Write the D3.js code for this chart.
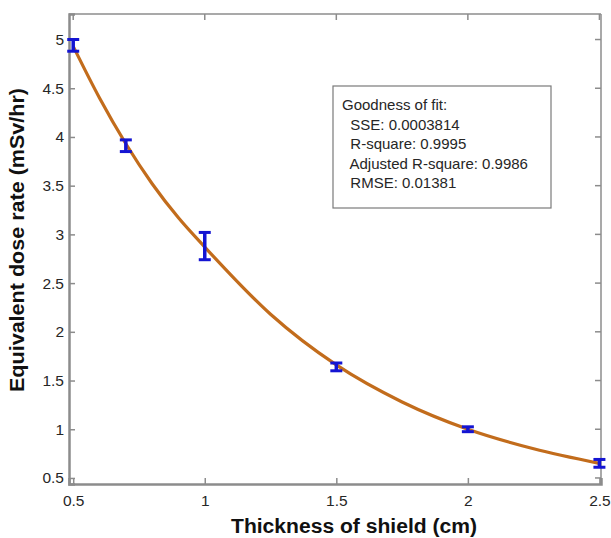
<!DOCTYPE html>
<html>
<head>
<meta charset="utf-8">
<script src="https://cdn.jsdelivr.net/npm/d3@7"></script>
<style>
  body { margin: 0; background: #fff; }
  text { font-family: "Liberation Sans", Arial, sans-serif; }
</style>
</head>
<body>
<svg id="chart" width="611" height="538"></svg>
<script>
// measured points with error bars
const thickness = [0.5, 0.7, 1, 1.5, 2, 2.5];
const doseRate = [4.94, 3.91, 2.88, 1.64, 1.0, 0.65];
const doseErr = [0.06, 0.06, 0.14, 0.04, 0.025, 0.04];

// fitted curve
const fitX = [0.5, 0.6, 0.7, 0.8, 0.9, 1.0, 1.25, 1.5, 1.75, 2.0, 2.25, 2.5];
const fitY = [4.93, 4.40, 3.93, 3.52, 3.17, 2.87, 2.18, 1.66, 1.28, 1.0, 0.80, 0.65];

const xTicks = [0.5, 1, 1.5, 2, 2.5];
const yTicks = [0.5, 1, 1.5, 2, 2.5, 3, 3.5, 4, 4.5, 5];

const fitLines = [
  'Goodness of fit:',
  '  SSE: 0.0003814',
  '  R-square: 0.9995',
  '  Adjusted R-square: 0.9986',
  '  RMSE: 0.01381'
];

const plot = { left: 69, right: 601, top: 14, bottom: 484 };

const svg = d3.select('#chart');

const x = d3.scaleLinear().domain([0.484, 2.506]).range([plot.left, plot.right]);
const y = d3.scaleLinear().domain([0.438, 5.262]).range([plot.bottom, plot.top]);

const axisColor = '#8c8c8c';
const labelColor = '#262626';

// box on the top and right
svg.append('line')
  .attr('x1', plot.left).attr('x2', plot.right)
  .attr('y1', plot.top).attr('y2', plot.top)
  .attr('stroke', axisColor).attr('stroke-width', 1.5);
svg.append('line')
  .attr('x1', plot.right).attr('x2', plot.right)
  .attr('y1', plot.top).attr('y2', plot.bottom)
  .attr('stroke', axisColor).attr('stroke-width', 1.5);

// bottom axis, ticks point inward
const xAxis = svg.append('g')
  .attr('transform', 'translate(0,' + plot.bottom + ')')
  .call(d3.axisBottom(x).tickValues(xTicks).tickSize(-6).tickPadding(11).tickFormat(d3.format('')));
// left axis
const yAxis = svg.append('g')
  .attr('transform', 'translate(' + plot.left + ',0)')
  .call(d3.axisLeft(y).tickValues(yTicks).tickSize(-6).tickPadding(5).tickFormat(d3.format('')));

[xAxis, yAxis].forEach(function (g) {
  g.select('.domain').attr('stroke', axisColor).attr('stroke-width', 2.5);
  g.selectAll('.tick line').attr('stroke', axisColor).attr('stroke-width', 1.5);
  g.selectAll('.tick text')
    .attr('fill', labelColor)
    .style('font-size', '15.5px')
    .style('font-family', '"Liberation Sans", Arial, sans-serif');
});

// mirrored ticks on the top and right edges
svg.append('g').selectAll('line')
  .data(xTicks)
  .enter()
  .append('line')
  .attr('x1', d => x(d)).attr('x2', d => x(d))
  .attr('y1', plot.top).attr('y2', plot.top + 6)
  .attr('stroke', axisColor).attr('stroke-width', 1.5);
svg.append('g').selectAll('line')
  .data(yTicks)
  .enter()
  .append('line')
  .attr('x1', plot.right - 6).attr('x2', plot.right)
  .attr('y1', d => y(d)).attr('y2', d => y(d))
  .attr('stroke', axisColor).attr('stroke-width', 1.5);

// fitted curve
const fitData = fitX.map((d, i) => ({ x: d, y: fitY[i] }));
const line = d3.line()
  .x(d => x(d.x))
  .y(d => y(d.y))
  .curve(d3.curveMonotoneX);

svg.append('path')
  .datum(fitData)
  .attr('d', line)
  .attr('fill', 'none')
  .attr('stroke', '#c26c1c')
  .attr('stroke-width', 3.2);

// error bars
const points = thickness.map((d, i) => ({ x: d, y: doseRate[i], e: doseErr[i] }));
const errColor = '#1414d2';
const capW = 6;

const bars = svg.append('g').attr('class', 'errorbars')
  .selectAll('g')
  .data(points)
  .enter()
  .append('g');

bars.append('line')
  .attr('x1', d => x(d.x)).attr('x2', d => x(d.x))
  .attr('y1', d => y(d.y - d.e)).attr('y2', d => y(d.y + d.e))
  .attr('stroke', errColor).attr('stroke-width', 3.5);
bars.append('line')
  .attr('x1', d => x(d.x) - capW).attr('x2', d => x(d.x) + capW)
  .attr('y1', d => y(d.y + d.e)).attr('y2', d => y(d.y + d.e))
  .attr('stroke', errColor).attr('stroke-width', 3);
bars.append('line')
  .attr('x1', d => x(d.x) - capW).attr('x2', d => x(d.x) + capW)
  .attr('y1', d => y(d.y - d.e)).attr('y2', d => y(d.y - d.e))
  .attr('stroke', errColor).attr('stroke-width', 3);

// goodness of fit box
const box = svg.append('g').attr('transform', 'translate(333,86)');
box.append('rect')
  .attr('width', 218).attr('height', 122)
  .attr('fill', '#fff')
  .attr('stroke', '#7a7a7a')
  .attr('stroke-width', 1.2);
box.selectAll('text')
  .data(fitLines)
  .enter()
  .append('text')
  .attr('x', 9)
  .attr('y', (d, i) => 24 + i * 19.5)
  .attr('fill', labelColor)
  .style('font-size', '15px')
  .style('white-space', 'pre')
  .attr('xml:space', 'preserve')
  .text(d => d);

// axis titles
svg.append('text')
  .attr('x', 354)
  .attr('y', 533)
  .attr('text-anchor', 'middle')
  .attr('fill', '#111')
  .style('font-size', '20px')
  .style('font-weight', 'bold')
  .attr('textLength', 246)
  .attr('lengthAdjust', 'spacingAndGlyphs')
  .text('Thickness of shield (cm)');

svg.append('text')
  .attr('transform', 'translate(24,240) rotate(-90)')
  .attr('text-anchor', 'middle')
  .attr('fill', '#111')
  .style('font-size', '20px')
  .style('font-weight', 'bold')
  .attr('textLength', 304)
  .attr('lengthAdjust', 'spacingAndGlyphs')
  .text('Equivalent dose rate (mSv/hr)');
</script>
</body>
</html>
